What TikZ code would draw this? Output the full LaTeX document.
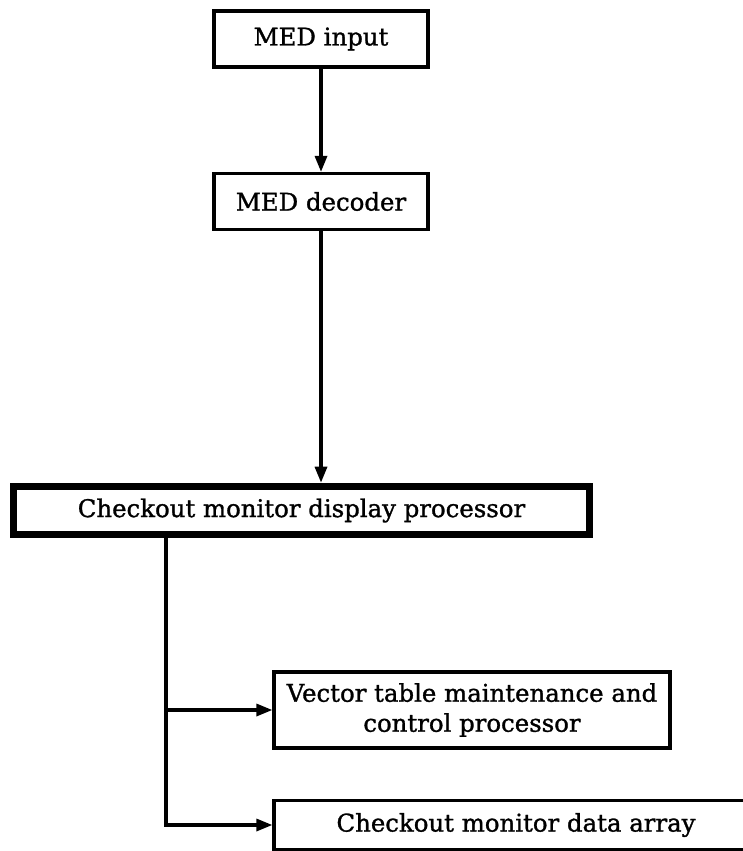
\documentclass[tikz,border=0pt]{standalone}
\usepackage{fontspec}
\setmainfont[FakeBold=1.2]{DejaVu Serif}
\usepackage{tikz}
\usetikzlibrary{calc,arrows.meta,positioning}

\begin{document}
\begin{tikzpicture}[x=0.5pt,y=-0.5pt,font=\fontsize{12.2}{15}\selectfont]

\tikzset{procbox/.style={draw,line width=1.6pt,inner sep=0pt,align=center,minimum height=28pt},
mainbox/.style={draw,line width=3.8pt,inner sep=0pt,minimum width=288pt,minimum height=24pt},
flow/.style={line width=1.6pt,-{Triangle[length=8pt,width=6pt]}}}

% Frame
\useasboundingbox (0,0) rectangle (743,851);
\clip (0,0) rectangle (743,851);

% Input side
\node[procbox,minimum width=107pt] (medin) at (321,39) {MED input};
\node[procbox,minimum width=107pt] (meddec) at (321,201.5) {MED decoder};

% Display processor
\node[mainbox] (cmdp) at (301.5,510.5) {Checkout monitor display processor};

% Outputs
\node[procbox,minimum width=198pt,minimum height=38pt] (vtmcp) at (472,710) {Vector table maintenance and\\control processor};
\node[procbox,minimum width=242pt,minimum height=24.5pt] (cmda) at (516,825) {Checkout monitor data array};

% Edges
\draw[flow] (medin) -- (meddec);
\draw[flow] (meddec.south) -- (meddec.south |- cmdp.north);
\coordinate (trunk) at (166,538);
\draw[flow] (trunk) |- (cmda.west);
\draw[flow] (trunk |- vtmcp.west) -- (vtmcp.west);

\end{tikzpicture}
\end{document}
